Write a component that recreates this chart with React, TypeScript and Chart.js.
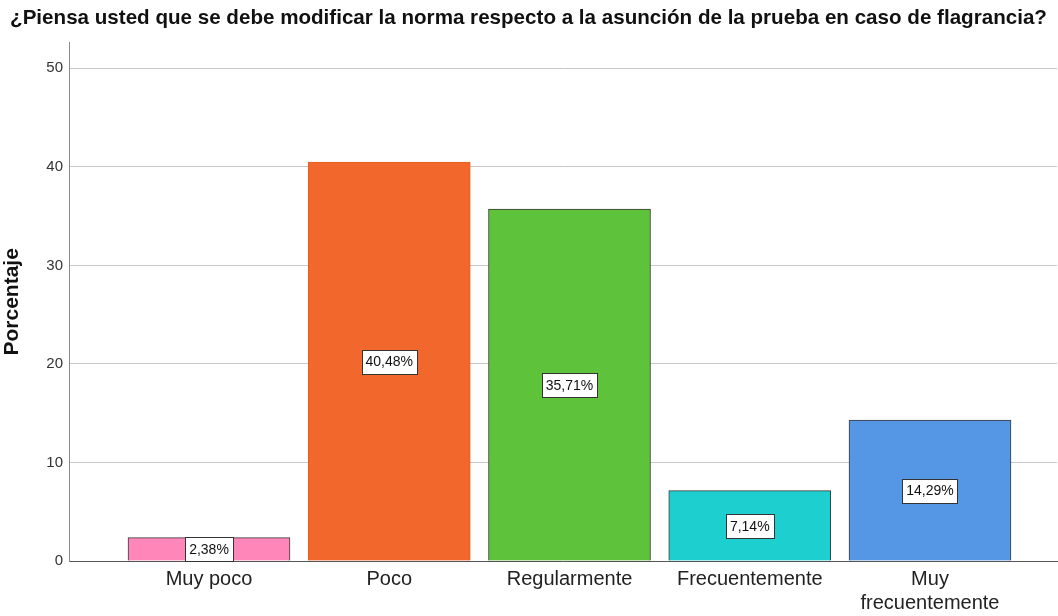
import React, { useEffect, useRef } from "react";
import { Chart, registerables } from "chart.js";

Chart.register(...registerables);

const titleText =
  "¿Piensa usted que se debe modificar la norma respecto a la asunción de la prueba en caso de flagrancia?";
const categories: (string | string[])[] = [
  "Muy poco",
  "Poco",
  "Regularmente",
  "Frecuentemente",
  ["Muy", "frecuentemente"],
];
const percentages = [2.38, 40.48, 35.71, 7.14, 14.29];
const valueLabels = ["2,38%", "40,48%", "35,71%", "7,14%", "14,29%"];
const yTicks = [0, 10, 20, 30, 40, 50];
const barColors = ["#FF86B8", "#F2682C", "#5EC23A", "#1ECFCF", "#5596E5"];
const borderColors = ["#3a3a3a", "#E0601F", "#3a3a3a", "#3a3a3a", "#3a3a3a"];

const FONT = "'Liberation Sans', Arial, sans-serif";

const labelPlugin = {
  id: "boxLabels",
  afterDatasetsDraw(chart: any) {
    const ctx = chart.ctx;
    const meta = chart.getDatasetMeta(0);
    const yScale = chart.scales.y;
    ctx.save();
    ctx.font = `14px ${FONT}`;
    ctx.textAlign = "center";
    ctx.textBaseline = "middle";
    meta.data.forEach((bar: any, i: number) => {
      const cx = bar.x;
      const cy = yScale.getPixelForValue(percentages[i] / 2);
      const txt = valueLabels[i];
      const w = Math.round(ctx.measureText(txt).width) + 8;
      const h = 24;
      const x0 = Math.round(cx - w / 2) + 0.5;
      const y0 = Math.round(cy - h / 2) + 0.5;
      ctx.fillStyle = "#ffffff";
      ctx.fillRect(x0, y0, w, h);
      ctx.strokeStyle = "#333333";
      ctx.lineWidth = 1;
      ctx.strokeRect(x0, y0, w, h);
      ctx.fillStyle = "#111111";
      ctx.fillText(txt, cx, cy + 1);
    });
    ctx.restore();
  },
};

export default function App() {
  const ref = useRef<HTMLCanvasElement>(null);
  useEffect(() => {
    if (!ref.current) return;
    const xMin = 1 - 140 / 180.25;
    const xMax = xMin + 988 / 180.25;
    const chart = new Chart(ref.current, {
      type: "bar",
      data: {
        datasets: [
          {
            data: percentages.map((v, i) => ({ x: i + 1, y: v })),
            backgroundColor: barColors,
            borderColor: borderColors,
            borderWidth: 1,
            barThickness: 162,
          },
        ],
      },
      options: {
        animation: false,
        responsive: false,
        maintainAspectRatio: false,
        layout: { padding: { left: 0, right: 1, top: 0, bottom: 0 } },
        plugins: {
          legend: { display: false },
          tooltip: { enabled: false },
          title: {
            display: true,
            text: titleText,
            color: "#111111",
            font: { family: FONT, size: 20.6, weight: "bold" },
            padding: { top: 6, bottom: 12 },
          },
        },
        scales: {
          x: {
            type: "linear",
            offset: false,
            min: xMin,
            max: xMax,
            afterBuildTicks: (s: any) => {
              s.ticks = categories.map((_, i) => ({ value: i + 1 }));
            },
            afterFit: (s: any) => {
              s.height = 55;
            },
            ticks: {
              autoSkip: false,
              maxRotation: 0,
              padding: 6,
              color: "#222222",
              font: { family: FONT, size: 20 },
              callback: (v: any) => categories[Math.round(v) - 1] as any,
            },
            grid: { display: false, drawTicks: false, offset: false },
            border: { display: true, color: "#555555", width: 1 },
          },
          y: {
            type: "linear",
            min: 0,
            max: 52.6,
            afterBuildTicks: (s: any) => {
              s.ticks = yTicks.map((v) => ({ value: v }));
            },
            afterFit: (s: any) => {
              s.width = 69;
            },
            ticks: {
              padding: 6,
              color: "#333333",
              font: { family: FONT, size: 15 },
            },
            grid: { color: "#c8c8c8", lineWidth: 1, drawTicks: false },
            border: { display: true, color: "#8a8a8a", width: 1 },
            title: {
              display: true,
              text: "Porcentaje",
              color: "#111111",
              font: { family: FONT, size: 21, weight: "bold" },
              padding: { top: 0, bottom: 4 },
            },
          },
        },
      },
      plugins: [labelPlugin],
    });
    return () => chart.destroy();
  }, []);
  return (
    <div style={{ position: "absolute", left: 0, top: 0, width: 1058, height: 616, background: "#fff" }}>
      <canvas ref={ref} width={1058} height={616} style={{ width: 1058, height: 616 }} />
    </div>
  );
}
